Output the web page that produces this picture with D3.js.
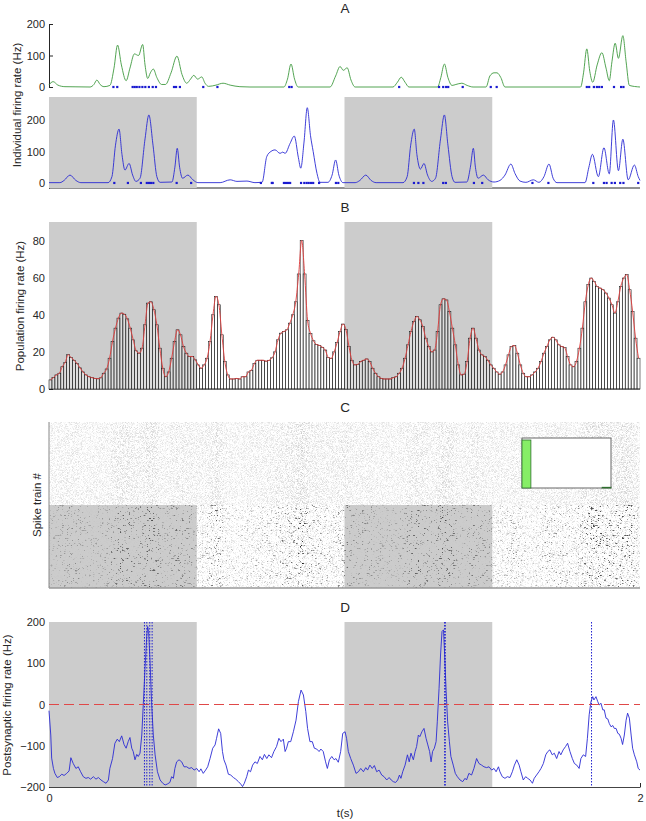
<!DOCTYPE html>
<html>
<head>
<meta charset="utf-8">
<script src="https://cdn.jsdelivr.net/npm/d3@7"></script>
<style>
body { margin: 0; background: #fff; }
svg text { font-family: "Liberation Sans", Arial, Helvetica, sans-serif; fill: #262626; }
</style>
</head>
<body>
<div id="chart"></div>
<script>
const width = 646;
const height = 821;

// stimulation windows (s)
const stimWindows = [[0, 0.5], [1.0, 1.5]];

// A: individual rates, [t (s), rate (Hz)]
const greenRate = [[0,7],[0.014,17],[0.030,6],[0.054,1],[0.139,0],[0.152,8],[0.162,22],[0.173,8],[0.186,1],[0.206,5],[0.220,60],[0.232,133],[0.245,70],[0.261,20],[0.274,60],[0.289,105],[0.303,100],[0.317,135],[0.325,70],[0.334,27],[0.343,45],[0.353,57],[0.365,30],[0.381,8],[0.394,8],[0.413,45],[0.433,98],[0.450,40],[0.466,12],[0.479,25],[0.490,37],[0.503,25],[0.517,32],[0.528,12],[0.540,2],[0.565,6],[0.589,12],[0.613,6],[0.646,1],[0.680,0],[0.795,0],[0.807,25],[0.819,73],[0.831,25],[0.843,0],[0.951,0],[0.970,35],[0.985,65],[0.996,53],[1.009,61],[1.022,22],[1.036,0],[1.164,0],[1.179,15],[1.192,31],[1.205,15],[1.218,0],[1.315,0],[1.326,30],[1.338,73],[1.350,30],[1.364,5],[1.377,8],[1.397,12],[1.415,5],[1.435,0],[1.479,0],[1.492,35],[1.506,45],[1.516,45],[1.529,30],[1.543,0],[1.799,0],[1.809,45],[1.820,121],[1.830,50],[1.840,15],[1.855,70],[1.871,109],[1.885,60],[1.896,20],[1.905,80],[1.916,139],[1.927,91],[1.942,163],[1.953,80],[1.964,5],[2.0,0]];
const greenSpikes = [0.218,0.231,0.283,0.290,0.297,0.306,0.316,0.326,0.338,0.351,0.362,0.423,0.430,0.443,0.522,0.570,0.813,0.821,1.185,1.320,1.334,1.344,1.351,1.400,1.495,1.515,1.820,1.828,1.844,1.854,1.862,1.871,1.912,1.936,1.944];

const blueRate = [[0,1],[0.037,1],[0.051,8],[0.071,25],[0.091,8],[0.108,1],[0.200,1],[0.213,20],[0.225,120],[0.237,171],[0.247,90],[0.257,41],[0.271,62],[0.283,25],[0.294,5],[0.308,15],[0.325,140],[0.338,216],[0.352,120],[0.365,20],[0.376,2],[0.416,3],[0.426,50],[0.434,110],[0.442,50],[0.452,15],[0.470,25],[0.487,10],[0.504,1],[0.579,1],[0.613,10],[0.636,5],[0.670,6],[0.697,1],[0.721,2],[0.737,84],[0.751,100],[0.765,105],[0.782,94],[0.791,98],[0.799,94],[0.816,126],[0.830,149],[0.844,80],[0.852,47],[0.863,130],[0.874,239],[0.885,150],[0.894,100],[0.907,30],[0.917,2],[0.944,2],[0.958,25],[0.970,73],[0.981,25],[0.995,1],[1.036,1],[1.052,8],[1.072,25],[1.090,8],[1.107,1],[1.198,1],[1.212,20],[1.224,120],[1.236,171],[1.245,90],[1.257,44],[1.269,62],[1.281,25],[1.295,5],[1.308,15],[1.325,140],[1.338,216],[1.350,120],[1.364,20],[1.374,2],[1.414,3],[1.426,50],[1.436,110],[1.443,50],[1.452,15],[1.470,25],[1.486,10],[1.506,3],[1.526,8],[1.543,25],[1.563,60],[1.577,30],[1.594,6],[1.614,2],[1.639,10],[1.658,2],[1.675,20],[1.692,60],[1.706,15],[1.719,1],[1.814,1],[1.827,50],[1.839,91],[1.859,20],[1.878,112],[1.896,29],[1.910,200],[1.927,39],[1.942,139],[1.960,10],[1.981,57],[1.994,20],[2.0,8]];
const blueSpikes = [0.221,0.267,0.311,0.331,0.338,0.345,0.353,0.432,0.481,0.717,0.754,0.757,0.795,0.802,0.809,0.816,0.853,0.864,0.872,0.879,0.887,0.894,0.914,0.971,0.979,1.235,1.250,1.267,1.334,1.343,1.438,1.466,1.636,1.690,1.842,1.878,1.887,1.904,1.915,1.933,1.944,1.994];

// B: population rate, 10 ms bins (Hz)
const binWidth = 0.01;
const popRate = [4.9,6.1,7.6,8.5,12,14.4,18.5,17,15.5,13.7,11.4,9.2,7.6,6.6,6.1,5.7,5.5,6,8.5,10.8,
  16.6,25.6,32.8,38.2,40.9,40.3,37.8,32.8,26.5,20.6,19.3,22,34.6,46.3,47,42.7,34.6,22,11.2,6.6,
  9.2,16.6,25.6,31.9,29.2,22.9,19.3,17.5,17.5,15.7,13,11.2,13,16.6,25.6,40,49.9,45.4,29.2,14.8,
  7.6,5.4,5.4,5.7,5.4,6.6,6.6,9.2,10.1,13.7,15.5,15.5,15.5,15,15.5,16.8,20,26.5,30.1,31,
  31.9,35.5,40,47,62,80,62,37,30,26,24,23.5,22.5,21,17,16.5,20,25,31,35,
  32,23,15.5,13,13.3,14.8,15.5,16.2,14.8,11.2,8.5,6.6,5.7,5.4,5.4,5.4,6.1,6.6,8.5,11.2,
  16.6,23.8,31,36.4,39.1,37.3,33.7,27.4,22.9,20,21,31,45.4,48.6,48,41.8,32.8,23.8,13,7.6,
  8,14.8,27.4,32.8,27.4,21,18.4,17.5,15.5,13,11.2,9.2,8,9.2,13,18.4,22.9,23.4,19.3,13,
  8.5,6.6,6.6,7.6,9.2,11.2,14.8,19.3,22.9,26.5,27.9,26.5,23.8,22.9,22.3,17.5,13,12,14.8,22,
  32.8,47,56.2,59.8,58,55.3,54.4,53.5,51.7,49,45.4,40.9,47,55.3,59.8,61.6,53.5,41.8,27.4,16.6];

// C: inset histogram
const insetCounts = [96, 0, 0, 0, 0, 0, 0, 0, 0, 1.5];

// D: postsynaptic rate, [t (s), rate (Hz)]
const postRate = [[0,-15],[0.006,-74],[0.009,-130],[0.015,-155],[0.020,-167],[0.028,-177],[0.035,-175],[0.043,-169],[0.051,-172],[0.060,-167],[0.068,-161],[0.074,-129],[0.082,-143],[0.091,-155],[0.099,-151],[0.107,-163],[0.116,-175],[0.125,-179],[0.133,-177],[0.141,-181],[0.150,-175],[0.159,-181],[0.167,-177],[0.176,-183],[0.184,-187],[0.193,-191],[0.201,-183],[0.206,-155],[0.215,-131],[0.223,-94],[0.231,-84],[0.238,-90],[0.246,-76],[0.254,-97],[0.261,-106],[0.268,-90],[0.274,-80],[0.280,-106],[0.285,-114],[0.291,-134],[0.297,-121],[0.302,-126],[0.308,-118],[0.314,-74],[0.319,-1],[0.325,88],[0.331,168],[0.334,189],[0.337,177],[0.342,104],[0.347,7],[0.353,-74],[0.359,-122],[0.367,-163],[0.376,-183],[0.385,-191],[0.393,-195],[0.400,-193],[0.409,-189],[0.415,-175],[0.421,-179],[0.426,-155],[0.432,-139],[0.440,-134],[0.449,-139],[0.457,-151],[0.466,-151],[0.474,-155],[0.483,-153],[0.491,-159],[0.500,-155],[0.508,-163],[0.514,-156],[0.522,-167],[0.530,-159],[0.537,-151],[0.545,-131],[0.554,-106],[0.562,-98],[0.567,-82],[0.574,-59],[0.581,-70],[0.587,-114],[0.592,-134],[0.599,-147],[0.607,-169],[0.615,-171],[0.624,-177],[0.632,-181],[0.641,-187],[0.649,-193],[0.655,-199],[0.661,-191],[0.669,-175],[0.675,-159],[0.682,-163],[0.689,-147],[0.697,-139],[0.705,-143],[0.714,-126],[0.722,-134],[0.729,-121],[0.737,-131],[0.744,-122],[0.753,-129],[0.761,-114],[0.770,-102],[0.778,-82],[0.785,-90],[0.793,-84],[0.799,-114],[0.804,-106],[0.810,-90],[0.818,-90],[0.827,-66],[0.836,-38],[0.844,7],[0.853,35],[0.861,23],[0.869,-17],[0.875,-58],[0.883,-90],[0.891,-90],[0.898,-106],[0.906,-108],[0.914,-114],[0.920,-108],[0.928,-114],[0.936,-139],[0.942,-155],[0.949,-134],[0.957,-126],[0.965,-134],[0.971,-131],[0.979,-140],[0.987,-114],[0.994,-70],[1.002,-66],[1.007,-82],[1.013,-114],[1.021,-131],[1.030,-147],[1.039,-167],[1.047,-163],[1.055,-155],[1.064,-163],[1.072,-153],[1.078,-159],[1.086,-147],[1.094,-155],[1.101,-148],[1.109,-163],[1.117,-159],[1.126,-171],[1.134,-175],[1.143,-183],[1.151,-177],[1.158,-183],[1.165,-187],[1.173,-189],[1.180,-183],[1.186,-171],[1.191,-179],[1.197,-163],[1.205,-147],[1.213,-122],[1.219,-139],[1.225,-118],[1.233,-134],[1.239,-114],[1.244,-102],[1.250,-74],[1.255,-78],[1.262,-66],[1.269,-58],[1.276,-82],[1.282,-98],[1.288,-114],[1.293,-139],[1.298,-114],[1.304,-106],[1.310,-90],[1.314,-42],[1.320,39],[1.325,120],[1.330,177],[1.335,181],[1.339,120],[1.344,31],[1.349,-42],[1.355,-90],[1.360,-126],[1.368,-147],[1.375,-167],[1.382,-175],[1.391,-183],[1.400,-187],[1.408,-179],[1.413,-183],[1.421,-167],[1.430,-171],[1.438,-155],[1.447,-131],[1.455,-143],[1.464,-147],[1.472,-151],[1.481,-153],[1.489,-151],[1.498,-159],[1.506,-155],[1.513,-163],[1.521,-151],[1.526,-163],[1.534,-175],[1.543,-179],[1.551,-175],[1.560,-177],[1.568,-163],[1.575,-147],[1.583,-134],[1.591,-147],[1.597,-163],[1.605,-183],[1.613,-175],[1.620,-179],[1.628,-183],[1.636,-191],[1.642,-179],[1.650,-171],[1.658,-163],[1.665,-155],[1.673,-143],[1.681,-122],[1.688,-114],[1.695,-110],[1.703,-122],[1.710,-118],[1.718,-131],[1.726,-114],[1.732,-122],[1.740,-110],[1.748,-102],[1.755,-94],[1.763,-114],[1.771,-131],[1.778,-143],[1.786,-147],[1.794,-155],[1.800,-131],[1.808,-122],[1.816,-126],[1.822,-82],[1.828,-25],[1.834,7],[1.840,19],[1.844,11],[1.851,19],[1.857,7],[1.862,-1],[1.868,3],[1.874,-13],[1.879,-13],[1.885,-33],[1.891,-35],[1.896,-46],[1.902,-54],[1.908,-51],[1.913,-58],[1.919,-58],[1.925,-70],[1.930,-72],[1.936,-82],[1.941,-97],[1.947,-74],[1.953,-38],[1.958,-21],[1.964,-33],[1.970,-74],[1.975,-106],[1.981,-122],[1.989,-139],[1.994,-155],[2.0,-159]];
const postSpikes = [0.323, 0.331, 0.341, 0.349, 1.339, 1.341, 1.836];
const threshold = 0;

const svg = d3.select("#chart")
    .append("svg")
    .attr("width", width)
    .attr("height", height);

const x = d3.scaleLinear().domain([0, 2]).range([49, 640]);
const boxGrey = "#cccccc";
const ink = "#262626";

function yAxis(scale, ticks) {
    const g = svg.append("g")
        .attr("transform", `translate(${x(0)},0)`)
        .call(d3.axisLeft(scale).tickValues(ticks).tickSize(-4).tickSizeOuter(0).tickPadding(4));
    g.selectAll("text").attr("font-size", 11);
    g.select(".domain").attr("stroke", ink);
    g.selectAll(".tick line").attr("stroke", ink);
    return g;
}

function stimBoxes(y0, y1) {
    svg.append("g").selectAll("rect")
        .data(stimWindows)
        .join("rect")
        .attr("x", d => x(d[0]))
        .attr("width", d => x(d[1]) - x(d[0]))
        .attr("y", y0)
        .attr("height", y1 - y0)
        .attr("fill", boxGrey);
}

function hLine(y, color, w) {
    return svg.append("line").attr("x1", x(0)).attr("x2", x(2)).attr("y1", y).attr("y2", y)
        .attr("stroke", color).attr("stroke-width", w);
}

function title(txt, y) {
    svg.append("text").attr("x", 345).attr("y", y).attr("text-anchor", "middle")
        .attr("font-size", 13.5).text(txt);
}

function yLabel(txt, xPos, yPos) {
    svg.append("text").attr("transform", `translate(${xPos},${yPos}) rotate(-90)`)
        .attr("text-anchor", "middle").attr("font-size", 11.5).text(txt);
}

// ---------- A ----------
title("A", 13);
const yA1 = d3.scaleLinear().domain([0, 200]).range([87, 24]);
const yA2 = d3.scaleLinear().domain([-16, 273]).range([188, 97]);

yAxis(yA1, [0, 100, 200]);
svg.append("path")
    .datum(greenRate)
    .attr("d", d3.line().x(d => x(d[0])).y(d => yA1(d[1])).curve(d3.curveMonotoneX))
    .attr("fill", "none").attr("stroke", "#3f9a3f").attr("stroke-width", 0.9);
svg.append("g").selectAll("rect")
    .data(greenSpikes)
    .join("rect")
    .attr("x", d => x(d) - 1.1).attr("y", yA1(0) - 1.1)
    .attr("width", 2.2).attr("height", 2.2).attr("fill", "#1a1ad0");

yAxis(yA2, [0, 100, 200]);
hLine(188, ink, 1);
stimBoxes(97, 188);
svg.append("path")
    .datum(blueRate)
    .attr("d", d3.line().x(d => x(d[0])).y(d => yA2(d[1])).curve(d3.curveMonotoneX))
    .attr("fill", "none").attr("stroke", "#2a2ad4").attr("stroke-width", 0.9);
svg.append("g").selectAll("rect")
    .data(blueSpikes)
    .join("rect")
    .attr("x", d => x(d) - 1.1).attr("y", yA2(0) - 1.1)
    .attr("width", 2.2).attr("height", 2.2).attr("fill", "#1a1ad0");
yLabel("Individual firing rate (Hz)", 21, 105);

// ---------- B ----------
title("B", 212);
const yB = d3.scaleLinear().domain([0, 90]).range([389, 222]);
yAxis(yB, [0, 20, 40, 60, 80]);
hLine(389, ink, 1);
stimBoxes(222, 389);
svg.append("g").selectAll("rect")
    .data(popRate)
    .join("rect")
    .attr("x", (d, i) => x(i * binWidth))
    .attr("width", x(binWidth) - x(0))
    .attr("y", d => yB(d))
    .attr("height", d => yB(0) - yB(d))
    .attr("fill", "#ffffff").attr("fill-opacity", 0.35)
    .attr("stroke", "#111").attr("stroke-width", 0.55);
svg.append("path")
    .datum(popRate)
    .attr("d", d3.line().x((d, i) => x((i + 0.5) * binWidth)).y(d => yB(d)).curve(d3.curveMonotoneX))
    .attr("fill", "none").attr("stroke", "#e03a3a").attr("stroke-width", 0.9);
yLabel("Population firing rate (Hz)", 24, 306);

// ---------- C ----------
title("C", 412);
const cTop = 422, cMid = 505, cBot = 588;
const maxRate = d3.max(popRate);
const defs = svg.append("defs");

// speckle texture for the raster; density follows the population rate through a mask
function grain(id, freq, seed, grey, slope, offset) {
    const f = defs.append("filter").attr("id", id)
        .attr("x", 0).attr("y", 0).attr("width", 1).attr("height", 1)
        .attr("color-interpolation-filters", "sRGB");
    f.append("feTurbulence").attr("type", "fractalNoise")
        .attr("baseFrequency", freq).attr("numOctaves", 1).attr("seed", seed);
    f.append("feColorMatrix").attr("type", "matrix")
        .attr("values", `0 0 0 0 ${grey} 0 0 0 0 ${grey} 0 0 0 0 ${grey} ${slope} 0 0 0 ${offset}`);
}
grain("grainTop", "2.2", 3, 0.8, 4, -1.75);
grain("grainLow", "2.2", 11, 0.78, 4, -2.0);
grain("grainDark", "0.45 2.6", 7, 0.1, 10, -6.2);

function rateMask(id, y0, y1, lo, hi) {
    const m = defs.append("mask").attr("id", id)
        .attr("maskUnits", "userSpaceOnUse")
        .attr("x", x(0)).attr("y", y0).attr("width", x(2) - x(0)).attr("height", y1 - y0);
    m.selectAll("rect")
        .data(popRate)
        .join("rect")
        .attr("x", (d, i) => x(i * binWidth))
        .attr("width", x(binWidth) - x(0) + 0.4)
        .attr("y", y0).attr("height", y1 - y0)
        .attr("fill", "white")
        .attr("fill-opacity", d => lo + (hi - lo) * d / maxRate);
}
rateMask("maskTop", cTop, cMid, 0.45, 1);
rateMask("maskLow", cMid, cBot, 0.5, 1);
rateMask("maskDark", cMid, cBot, 0.15, 1);

stimBoxes(cMid, cBot);
svg.append("rect").attr("x", x(0)).attr("y", cTop).attr("width", x(2) - x(0)).attr("height", cMid - cTop)
    .attr("filter", "url(#grainTop)").attr("mask", "url(#maskTop)");
svg.append("rect").attr("x", x(0)).attr("y", cMid).attr("width", x(2) - x(0)).attr("height", cBot - cMid)
    .attr("filter", "url(#grainLow)").attr("mask", "url(#maskLow)");
svg.append("rect").attr("x", x(0)).attr("y", cMid).attr("width", x(2) - x(0)).attr("height", cBot - cMid)
    .attr("filter", "url(#grainDark)").attr("mask", "url(#maskDark)");
svg.append("line").attr("x1", x(0)).attr("x2", x(0)).attr("y1", cTop).attr("y2", cBot)
    .attr("stroke", "#888").attr("stroke-width", 1);
hLine(cBot, "#999", 1.5);

// inset histogram
const xi = d3.scaleLinear().domain([0, insetCounts.length]).range([522, 611]);
const yi = d3.scaleLinear().domain([0, 100]).range([488, 438]);
svg.append("rect").attr("x", xi(0)).attr("y", yi(100)).attr("width", xi(10) - xi(0)).attr("height", yi(0) - yi(100))
    .attr("fill", "#fff").attr("stroke", "#666").attr("stroke-width", 1);
svg.append("g").selectAll("rect")
    .data(insetCounts.map((c, i) => [i, c]).filter(d => d[1] > 0))
    .join("rect")
    .attr("x", d => xi(d[0]))
    .attr("width", xi(1) - xi(0))
    .attr("y", d => yi(d[1]))
    .attr("height", d => yi(0) - yi(d[1]))
    .attr("fill", "#86ee66").attr("stroke", "#2f6f2f").attr("stroke-width", 0.8);
yLabel("Spike train #", 41, 505);

// ---------- D ----------
title("D", 612);
const yD = d3.scaleLinear().domain([-200, 200]).range([787, 622]);
yAxis(yD, [-200, -100, 0, 100, 200]);
const xAx = svg.append("g")
    .attr("transform", `translate(0,${yD(-200)})`)
    .call(d3.axisBottom(x).tickValues([0, 2]).tickFormat(d3.format("d"))
        .tickSize(-4).tickSizeOuter(0).tickPadding(7));
xAx.selectAll("text").attr("font-size", 11);
xAx.select(".domain").attr("stroke", "#444");
xAx.selectAll(".tick line").attr("stroke", ink);
stimBoxes(622, 787);
svg.append("path")
    .datum(postRate)
    .attr("d", d3.line().x(d => x(d[0])).y(d => yD(d[1])))
    .attr("fill", "none").attr("stroke", "#2a2ad4").attr("stroke-width", 0.9);
hLine(yD(threshold), "#e04848", 1).attr("stroke-dasharray", "10,5");
svg.append("g").selectAll("line")
    .data(postSpikes)
    .join("line")
    .attr("x1", d => x(d)).attr("x2", d => x(d))
    .attr("y1", 622).attr("y2", 787)
    .attr("stroke", "#2020d0").attr("stroke-width", 1)
    .attr("stroke-dasharray", "1.5,1.5");
yLabel("Postsynaptic firing rate (Hz)", 11, 705);
svg.append("text").attr("x", 345).attr("y", 817).attr("text-anchor", "middle")
    .attr("font-size", 11.5).text("t(s)");
</script>
</body>
</html>
